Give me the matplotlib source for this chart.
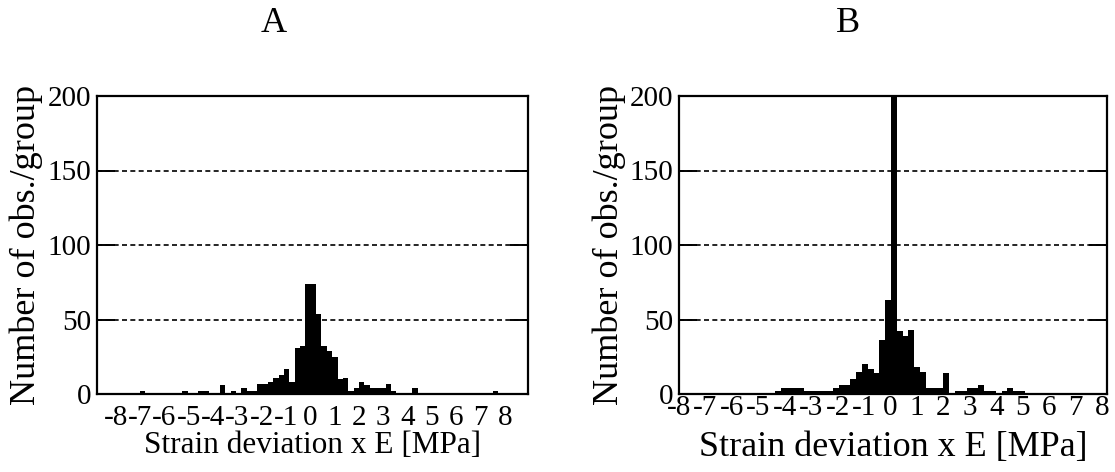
"""Histogramme der Dehnungsabweichung (A und B)"""

import numpy as np
import matplotlib.pyplot as plt

plt.rcParams['font.family'] = ['Liberation Serif', 'DejaVu Serif']
plt.rcParams['axes.unicode_minus'] = False
plt.rcParams['lines.scale_dashes'] = False

#Klassen: linke Kanten der Gruppen [MPa], Breite 0.22
breite = 0.22
kanten = np.round(-0.2 + breite * np.arange(-39, 41), 3)

#Anzahl der Beobachtungen pro Gruppe, Diagramm A
anzahl_A = [0, 0, 0, 0, 0, 0, 0, 0, 2, 0,
            0, 0, 0, 0, 0, 0, 2, 0, 0, 2,
            2, 0, 0, 6, 0, 2, 0, 4, 2, 2,
            7, 7, 8, 11, 13, 17, 8, 31, 32, 74,
            74, 54, 32, 29, 25, 10, 11, 2, 4, 8,
            6, 4, 4, 4, 7, 2, 0, 0, 0, 4,
            0, 0, 0, 0, 0, 0, 0, 0, 0, 0,
            0, 0, 0, 0, 2, 0, 0, 0, 0, 0]

#Diagramm B (der Spitzenwert geht über die Skala hinaus)
anzahl_B = [0, 0, 0, 0, 0, 0, 0, 0, 0, 0,
            0, 0, 0, 0, 0, 0, 0, 0, 0, 0,
            2, 4, 4, 4, 4, 2, 2, 2, 2, 2,
            4, 6, 6, 10, 15, 20, 17, 14, 36, 63,
            240, 42, 39, 43, 18, 15, 4, 4, 4, 14,
            0, 2, 2, 4, 4, 6, 2, 2, 0, 2,
            4, 2, 2, 0, 0, 0, 0, 0, 0, 0,
            0, 0, 0, 0, 0, 0, 0, 0, 0, 0]

titel = ['A', 'B']
x_ticks = np.arange(-8, 9)
y_ticks = [0, 50, 100, 150, 200]

fig = plt.figure(figsize=(11.15, 4.72), dpi=100)

#Achsen in Pixelkoordinaten (links, rechts) und Grenzen
ax1 = fig.add_axes([97 / 1115, 78 / 472, 431 / 1115, 298 / 472])
ax2 = fig.add_axes([679 / 1115, 78 / 472, 428 / 1115, 298 / 472])

for ax, anzahl, xlim, pad in [(ax1, anzahl_A, (-8.77, 8.95), 8),
                              (ax2, anzahl_B, (-8.0, 8.19), 0.5)]:
    ax.bar(kanten, anzahl, width=breite, align='edge', color='black',
           linewidth=0, zorder=2)
    ax.set_xlim(*xlim)
    ax.set_ylim(0, 200)
    ax.set_xticks(x_ticks)
    ax.set_yticks(y_ticks)
    ax.yaxis.grid(True, color='black', linewidth=1.2,
                  linestyle=(0, (3.6, 2.4)), zorder=1)
    ax.set_axisbelow(True)
    ax.tick_params(axis='y', direction='in', length=13, width=1.4,
                   left=True, right=True, labelsize=21, pad=4)
    ax.tick_params(axis='x', length=0, labelsize=21, pad=pad)
    for s in ax.spines.values():
        s.set_linewidth(1.6)
    ax.set_ylabel('Number of obs./group', fontsize=26)
    ax.yaxis.set_label_coords(-0.125, 0.5)

ax1.set_xlabel('Strain deviation x E [MPa]', fontsize=22.5)
ax2.set_xlabel('Strain deviation x E [MPa]', fontsize=26)
ax1.xaxis.set_label_coords(0.5, -0.125)
ax2.xaxis.set_label_coords(0.5, -0.125)

#Überschriften über den Diagrammen
fig.text(274 / 1115, 1 - 24 / 472, titel[0], fontsize=26, ha='center', va='center')
fig.text(848 / 1115, 1 - 24 / 472, titel[1], fontsize=26, ha='center', va='center')

fig.savefig('out.png', dpi=100)
